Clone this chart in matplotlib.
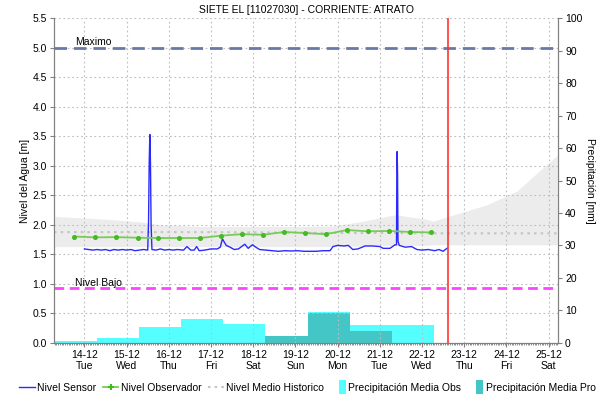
import matplotlib
matplotlib.use("Agg")
import matplotlib.pyplot as plt
import matplotlib.dates as mdates
import matplotlib.patches as mpatches
from matplotlib.legend_handler import HandlerPatch
from matplotlib.lines import Line2D
from datetime import datetime
import numpy as np

plt.rcParams['font.family'] = ['Liberation Sans', 'DejaVu Sans']

title = "SIETE EL [11027030] - CORRIENTE: ATRATO"
base_date = datetime(2021, 12, 14)

# Nivel Sensor: offsets in days from 14-12 00:00, values in m
sensor_t = [0.00, 0.10, 0.20, 0.30, 0.40, 0.50, 0.60, 0.70, 0.80, 0.90, 1.00, 1.10, 1.20, 1.30,
            1.40, 1.50, 1.52, 1.535, 1.55, 1.565, 1.58, 1.60, 1.70, 1.80, 1.90, 2.00, 2.10, 2.20,
            2.35, 2.43, 2.52, 2.60, 2.66, 2.72, 2.85, 3.00, 3.15, 3.22, 3.27, 3.36, 3.45, 3.55,
            3.65, 3.80, 3.88, 3.98, 4.06, 4.15, 4.30, 4.45, 4.60, 4.75, 4.90, 5.05, 5.20, 5.35,
            5.50, 5.65, 5.82, 5.89, 6.00, 6.15, 6.25, 6.36, 6.48, 6.65, 6.82, 7.00, 7.08, 7.24,
            7.36, 7.395, 7.40, 7.405, 7.41, 7.42, 7.43, 7.46, 7.60, 7.75, 7.88, 8.00, 8.15, 8.30,
            8.40, 8.50, 8.59]
sensor_v = [1.59, 1.58, 1.57, 1.58, 1.57, 1.58, 1.56, 1.58, 1.57, 1.58, 1.57, 1.58, 1.56, 1.57,
            1.58, 1.57, 2.07, 3.04, 3.53, 3.04, 2.00, 1.58, 1.57, 1.59, 1.57, 1.58, 1.57, 1.58,
            1.57, 1.63, 1.57, 1.57, 1.63, 1.56, 1.57, 1.59, 1.59, 1.62, 1.76, 1.65, 1.62, 1.58,
            1.59, 1.67, 1.60, 1.66, 1.62, 1.58, 1.57, 1.56, 1.55, 1.56, 1.555, 1.56, 1.55, 1.55,
            1.55, 1.56, 1.56, 1.63, 1.65, 1.64, 1.65, 1.58, 1.59, 1.64, 1.64, 1.63, 1.60, 1.60,
            1.66, 1.66, 2.43, 2.85, 3.24, 2.85, 1.72, 1.65, 1.62, 1.63, 1.58, 1.57, 1.58, 1.56,
            1.58, 1.55, 1.60]

# Nivel Observador
obs_t = [-0.24, 0.25, 0.75, 1.26, 1.75, 2.24, 2.74, 3.24, 3.73, 4.23, 4.73, 5.23, 5.72,
         6.22, 6.72, 7.22, 7.72, 8.21]
obs_v = [1.80, 1.786, 1.79, 1.78, 1.775, 1.775, 1.775, 1.815, 1.84, 1.83, 1.877, 1.86, 1.84,
         1.91, 1.888, 1.895, 1.877, 1.87]

# Nivel Medio Historico (line and band)
hist_t = [-0.72, 0.37, 1.32, 1.79, 2.74, 4.16, 5.11, 5.89, 6.53, 7.36, 8.12, 8.26, 8.62,
          9.54, 10.25, 10.73, 11.23]
hist_mean = [1.875, 1.875, 1.875, 1.875, 1.875, 1.87, 1.865, 1.86, 1.86, 1.86, 1.855, 1.855,
             1.855, 1.855, 1.855, 1.855, 1.855]
hist_upper = [2.14, 2.10, 2.05, 2.00, 1.97, 1.97, 1.97, 1.98, 2.05, 2.17, 2.09, 2.06, 2.14,
              2.34, 2.57, 2.88, 3.19]
hist_lower = [1.63, 1.63, 1.63, 1.63, 1.63, 1.63, 1.63, 1.63, 1.64, 1.65, 1.65, 1.66, 1.66,
              1.66, 1.66, 1.66, 1.66]

# Precipitation (daily, 07:00 to 07:00), start offsets in days
precip_obs_start = [-1.71, -0.71, 0.29, 1.29, 2.29, 3.29, 4.29, 5.29, 6.29, 7.29]
precip_obs = [6.1, 0.6, 1.3, 4.9, 7.4, 5.8, 1.5, 9.5, 5.5, 5.5]
precip_pro_start = [4.29, 5.29, 6.29]
precip_pro = [2.2, 9.3, 3.5]

nivel_maximo = 5.0
nivel_bajo = 0.925
now_offset = 8.625
x_range = (-0.72, 11.225)

b0 = mdates.date2num(base_date)
conv = lambda arr: [b0 + v for v in arr]

fig = plt.figure(figsize=(6.03, 4.04), dpi=100)
ax = fig.add_axes([0.0896, 0.1517, 0.836, 0.803])
ax2 = ax.twinx()

fs = 7.5
# band
ax.fill_between(conv(hist_t), hist_lower, hist_upper, color='#ececec', lw=0, zorder=0.5)
ax.plot(conv(hist_t), hist_mean, color='#c4c4c4', lw=1.5, ls=(0, (1.2, 2)), zorder=1.5)

# grid
ax.set_axisbelow(True)
ax.grid(True, which='major', color='#bdbdbd', ls=(0, (1.5, 2.5)), lw=0.8)

# bars on right axis
ax2.bar(conv(precip_obs_start), precip_obs, width=1.0, align='edge', color='#55ffff',
        edgecolor='none', zorder=1)
ax2.bar(conv(precip_pro_start), precip_pro, width=1.0, align='edge', color='#45c6c6',
        edgecolor='none', zorder=2)
ax2.set_ylim(0, 100)
ax2.set_yticks(range(0, 101, 10))
ax2.set_ylabel("Precipitación [mm]", rotation=-90, labelpad=9, fontsize=fs)

ax.set_zorder(ax2.get_zorder() + 1)
ax.patch.set_visible(False)

ax.plot(conv(sensor_t), sensor_v, color='#2a2aff', lw=1.0, zorder=3)
ax.plot(conv(obs_t), obs_v, color='#77cc55', lw=1.3, marker='o', ms=2.6,
        mfc='#44bb22', mec='#44bb22', zorder=3)

ax.axhline(nivel_maximo, color='#6878a8', lw=2, ls=(0, (4.5, 2.5)), zorder=2)
ax.axhline(nivel_bajo, color='#ff44ff', lw=2, ls=(0, (3.5, 2)), zorder=2)
ax.text(b0 - 0.22, nivel_maximo + 0.01, "Maximo", fontsize=fs, va='bottom', ha='left')
ax.text(b0 - 0.22, nivel_bajo + 0.01, "Nivel Bajo", fontsize=fs, va='bottom', ha='left')
ax.axvline(b0 + now_offset, color='#ff3333', lw=1.2, zorder=4)

ax.set_xlim(b0 + x_range[0], b0 + x_range[1])
ax.set_ylim(0, 5.5)
ax.set_yticks(np.arange(0, 5.51, 0.5))
ax.yaxis.set_major_formatter(matplotlib.ticker.FormatStrFormatter('%.1f'))
ax.set_ylabel("Nivel del Agua [m]", fontsize=fs, labelpad=2)
ax.xaxis.set_major_locator(mdates.DayLocator())
ax.xaxis.set_major_formatter(mdates.DateFormatter('%d-%m\n%a'))
ax.xaxis.set_minor_locator(mdates.HourLocator(interval=1))

for a in (ax, ax2):
    for s in a.spines.values():
        s.set_color('#808080')
    a.spines['top'].set_visible(False)
ax.tick_params(axis='both', which='major', labelsize=fs, length=3, color='#808080', pad=2)
ax.tick_params(axis='x', which='minor', length=1.5, color='#808080')
ax2.tick_params(axis='y', labelsize=fs, length=3, color='#808080', pad=2)
ax.set_title(title, fontsize=fs, pad=4)

class NarrowPatch(HandlerPatch):
    def create_artists(self, legend, orig_handle, xdescent, ydescent, width, height, fontsize, trans):
        p = mpatches.Rectangle((width - 5, -2.5), 5, height + 5,
                               facecolor=orig_handle.get_facecolor(), edgecolor='none',
                               transform=trans)
        return [p]

handles = [
    Line2D([], [], color='#2a2aff', lw=1.0),
    Line2D([], [], color='#77cc55', lw=1.3, marker='+', ms=4, mec='#44bb22', mew=1.5),
    Line2D([], [], color='#c4c4c4', lw=1.5, ls=(0, (1.2, 2))),
    mpatches.Patch(color='#55ffff'),
    mpatches.Patch(color='#45c6c6'),
]
labels = ["Nivel Sensor", "Nivel Observador", "Nivel Medio Historico",
          "Precipitación Media Obs", "Precipitación Media Pro"]
fig.legend(handles, labels, loc='center', bbox_to_anchor=(0.51, 0.04), ncol=5,
           fontsize=fs, frameon=False, handlelength=1.5, handletextpad=0.25,
           columnspacing=0.6,
           handler_map={mpatches.Patch: NarrowPatch()})

fig.savefig("out.png", dpi=100)
